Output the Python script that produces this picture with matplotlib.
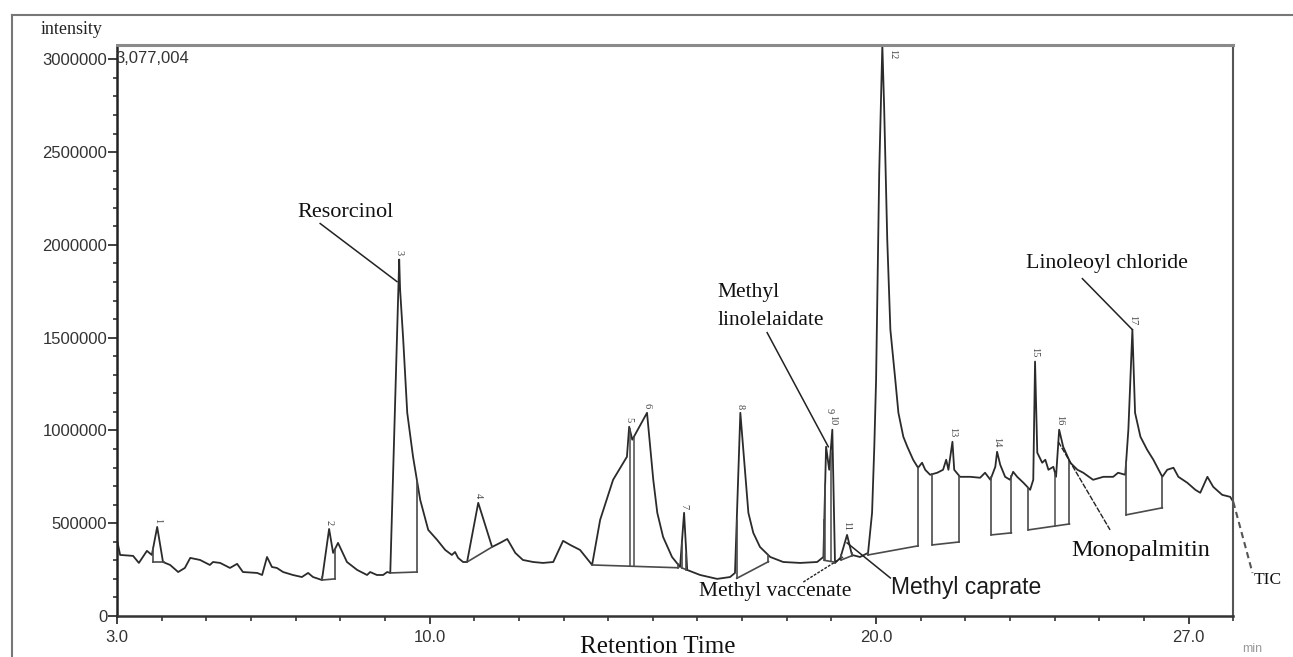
import numpy as np
import matplotlib
matplotlib.use("Agg")
import matplotlib.pyplot as plt
from matplotlib.ticker import MultipleLocator, FixedLocator

# total ion chromatogram (minutes, intensity in thousands)
ret_time = [3.00, 3.07, 3.36, 3.49, 3.67, 3.78, 3.90, 4.03, 4.19, 4.37,
            4.52, 4.64, 4.86, 5.08, 5.15, 5.31, 5.53, 5.69, 5.82, 6.14,
            6.25, 6.36, 6.47, 6.58, 6.72, 6.94, 7.14, 7.28, 7.39, 7.59,
            7.75, 7.84, 7.95, 8.15, 8.38, 8.60, 8.67, 8.82, 8.96, 9.05,
            9.12, 9.32, 9.34, 9.41, 9.50, 9.63, 9.79, 9.97, 10.17, 10.35,
            10.50, 10.57, 10.64, 10.75, 10.84, 11.09, 11.40, 11.58, 11.74, 11.92,
            12.09, 12.32, 12.54, 12.77, 12.99, 13.15, 13.37, 13.64, 13.82, 14.11,
            14.42, 14.47, 14.54, 14.87, 15.01, 15.10, 15.23, 15.43, 15.61, 15.70,
            15.77, 16.06, 16.44, 16.73, 16.84, 16.96, 17.14, 17.25, 17.40, 17.63,
            17.92, 18.30, 18.68, 18.82, 18.88, 18.95, 19.02, 19.08, 19.20, 19.35,
            19.46, 19.64, 19.82, 19.91, 19.96, 20.00, 20.07, 20.14, 20.18, 20.25,
            20.32, 20.43, 20.50, 20.61, 20.70, 20.83, 20.94, 21.03, 21.10, 21.21,
            21.37, 21.50, 21.57, 21.62, 21.71, 21.75, 21.88, 22.11, 22.33, 22.44,
            22.56, 22.67, 22.71, 22.78, 22.89, 23.00, 23.07, 23.16, 23.30, 23.45,
            23.52, 23.56, 23.61, 23.72, 23.79, 23.86, 23.97, 24.03, 24.10, 24.19,
            24.35, 24.51, 24.64, 24.86, 25.09, 25.31, 25.42, 25.58, 25.65, 25.74,
            25.80, 25.92, 26.07, 26.21, 26.41, 26.52, 26.66, 26.77, 26.97, 27.15,
            27.26, 27.42, 27.55, 27.75, 27.93, 28.00]
intensity_k = [410, 329, 324, 286, 351, 329, 480, 291, 275, 237,
               259, 313, 302, 275, 291, 286, 259, 281, 237, 232,
               221, 318, 264, 259, 237, 221, 210, 232, 210, 194,
               469, 340, 394, 291, 248, 221, 237, 221, 221, 237,
               232, 1921, 1759, 1489, 1095, 858, 626, 464, 410, 356,
               329, 345, 313, 291, 291, 610, 372, 394, 415, 340,
               302, 291, 286, 291, 405, 383, 356, 275, 518, 734,
               858, 1020, 950, 1095, 734, 556, 426, 318, 264, 556,
               248, 221, 200, 210, 232, 1095, 556, 448, 372, 318,
               291, 286, 291, 318, 912, 788, 1004, 286, 313, 437,
               329, 318, 340, 556, 912, 1273, 2390, 3077, 2746, 2029,
               1543, 1273, 1095, 966, 912, 842, 799, 826, 788, 761,
               772, 788, 842, 788, 939, 788, 750, 750, 745, 772,
               734, 804, 885, 815, 750, 734, 777, 750, 718, 680,
               734, 1371, 880, 826, 842, 788, 804, 750, 1004, 912,
               826, 788, 772, 734, 750, 750, 772, 761, 1004, 1543,
               1095, 966, 896, 842, 750, 788, 799, 750, 718, 680,
               664, 750, 696, 653, 642, 615]

# integration baselines: start time, start level, end time, end level (thousands)
base_t0 = [3.81, 7.60, 9.12, 10.84, 13.64, 15.65, 16.88, 18.84, 19.22, 19.82, 21.26, 22.58, 23.41, 25.60]
base_i0 = [291, 194, 232, 291, 275, 259, 203, 300, 302, 329, 383, 437, 464, 545]
base_t1 = [4.05, 7.88, 9.72, 11.40, 15.56, 15.75, 17.59, 19.08, 19.45, 20.94, 21.86, 23.03, 24.33, 26.41]
base_i1 = [291, 200, 237, 372, 260, 250, 293, 290, 324, 378, 399, 448, 496, 583]
# extra drop lines splitting merged peaks
split_t = [14.48, 14.57, 18.86, 18.98, 24.01]

peak_no = ['1', '2', '3', '4', '5', '6', '7', '8', '9', '10', '11', '12', '13', '14', '15', '16', '17']
peak_t = [3.90, 7.75, 9.32, 11.09, 14.47, 14.87, 15.70, 16.96, 18.88, 19.02, 19.35,
          20.14, 21.71, 22.71, 23.56, 24.10, 25.74]

t = np.array(ret_time)
inten = np.array(intensity_k) * 1000.0
y_top = 3077004

fig = plt.figure(figsize=(12.93, 6.57), dpi=100)
ax = fig.add_axes([117 / 1293, 1 - 616 / 657, 1116.3 / 1293, 571 / 657])

trace_col = '#2b2b2b'
ax.plot(t, inten, color=trace_col, lw=1.3, solid_joinstyle='round')

# baselines and drop lines
for a, ia, b, ib in zip(base_t0, base_i0, base_t1, base_i1):
    ia, ib = ia * 1000, ib * 1000
    ax.plot([a, b], [ia, ib], color='#4a4a4a', lw=1.2)
    ax.plot([a, a], [ia, np.interp(a, t, inten)], color='#4a4a4a', lw=1.2)
    ax.plot([b, b], [ib, np.interp(b, t, inten)], color='#4a4a4a', lw=1.2)
for s in split_t:
    seg = [i for i in range(len(base_t0)) if base_t0[i] <= s <= base_t1[i]]
    k = seg[0]
    lo = np.interp(s, [base_t0[k], base_t1[k]], [base_i0[k] * 1000, base_i1[k] * 1000])
    ax.plot([s, s], [lo, np.interp(s, t, inten)], color='#4a4a4a', lw=1.1)

# peak numbers
for n, pt in zip(peak_no, peak_t):
    py = np.interp(pt, t, inten)
    dx, dy, va, ha = 0, 3, 'bottom', 'center'
    if n == '12':
        dx, dy, va, ha = 4, -3, 'top', 'left'
    elif n == '9':
        dx, dy = 2, 24
    ax.annotate(n, (pt, py), xytext=(dx, dy), textcoords='offset points',
                rotation=270, fontsize=7.5, color='#444444', ha=ha, va=va,
                family='Liberation Serif')

# compound annotations
serif = 'Liberation Serif'
ax.text(8.11, 2175000, 'Resorcinol', fontsize=16, family=serif, ha='center', va='center', color='#111111')
ax.plot([7.55, 9.27], [2115000, 1802000], color='#222222', lw=1.1)

ax.text(16.44, 1670000, 'Methyl\nlinolelaidate', fontsize=15.5, family=serif, ha='left', va='center',
        linespacing=1.65, color='#111111')
ax.plot([17.56, 18.93], [1527000, 912000], color='#222222', lw=1.1)

ax.text(17.74, 130000, 'Methyl vaccenate', fontsize=15.5, family=serif, ha='center', va='center', color='#111111')
ax.plot([18.37, 19.26], [183000, 318000], color='#222222', lw=1.0, ls=(0, (2, 1)))

ax.text(22.02, 156000, 'Methyl caprate', fontsize=16.5, family='Liberation Sans', ha='center', va='center',
        color='#1a1a1a')
ax.plot([19.35, 20.32], [394000, 205000], color='#222222', lw=1.1)

ax.text(25.92, 351000, 'Monopalmitin', fontsize=17.5, family=serif, ha='center', va='center', color='#111111')
ax.plot([24.08, 25.24], [939000, 464000], color='#222222', lw=1.0, ls=(0, (4, 1)))

ax.text(25.16, 1899000, 'Linoleoyl chloride', fontsize=15.7, family=serif, ha='center', va='center', color='#111111')
ax.plot([24.62, 25.74], [1818000, 1543000], color='#222222', lw=1.1)

# TIC continuation outside the frame
ax.plot([28.0, 28.43], [615000, 232000], color='#555555', lw=1.5, ls=(0, (3, 2)), clip_on=False)
ax.text(28.45, 193000, 'TIC', fontsize=12.5, family=serif, ha='left', va='center', color='#111111')

ax.annotate('3,077,004', (0, 1), xycoords='axes fraction', xytext=(-1, -10), textcoords='offset points',
            ha='left', va='center', fontsize=12, family='Liberation Sans', color='#333333')

# axes
ax.set_xlim(3.0, 28.0)
ax.xaxis.set_major_locator(FixedLocator([3.0, 10.0, 20.0, 27.0]))
ax.set_xticklabels(['3.0', '10.0', '20.0', '27.0'])
ax.xaxis.set_minor_locator(MultipleLocator(1.0))
ax.yaxis.set_major_locator(FixedLocator([0, 500000, 1000000, 1500000, 2000000, 2500000, 3000000]))
ax.set_yticklabels(['0', '500000', '1000000', '1500000', '2000000', '2500000', '3000000'])
ax.yaxis.set_minor_locator(MultipleLocator(100000))
ax.set_ylim(0, y_top)
ax.tick_params(axis='both', which='major', direction='out', color='#333333', width=1.3,
               labelsize=12, labelcolor='#333333')
ax.tick_params(axis='y', which='major', length=6.5, pad=0.5)
ax.tick_params(axis='x', which='major', length=6, pad=4)
ax.tick_params(axis='y', which='minor', direction='out', length=3, width=1.2, color='#333333')
ax.tick_params(axis='x', which='minor', direction='out', length=3.5, width=1.2, color='#333333')
for lab in ax.get_xticklabels() + ax.get_yticklabels():
    lab.set_family('Liberation Sans')

ax.spines['left'].set_color('#222222')
ax.spines['left'].set_linewidth(1.8)
ax.spines['bottom'].set_color('#333333')
ax.spines['bottom'].set_linewidth(1.8)
ax.spines['top'].set_color('#8a8a8a')
ax.spines['top'].set_linewidth(2.2)
ax.spines['right'].set_color('#555555')
ax.spines['right'].set_linewidth(1.5)

# outer frame and figure-level labels
fig.add_artist(plt.Line2D([12 / 1293, 1.0], [1 - 15 / 657, 1 - 15 / 657], color='#777777', lw=1.5))
fig.add_artist(plt.Line2D([12 / 1293, 12 / 1293], [1 - 15 / 657, 0], color='#777777', lw=1.5))
fig.text(72 / 1293, 1 - 30 / 657, 'intensity', fontsize=13, family=serif, ha='center', va='center', color='#222222')
fig.text(658 / 1293, 1 - 636 / 657, 'Retention Time', fontsize=18, family=serif, ha='center', va='top',
         color='#111111')
fig.text(1252 / 1293, 1 - 655 / 657, 'min', fontsize=9, family='Liberation Sans', ha='center', va='bottom',
         color='#999999')

fig.savefig('out.png', dpi=100)
